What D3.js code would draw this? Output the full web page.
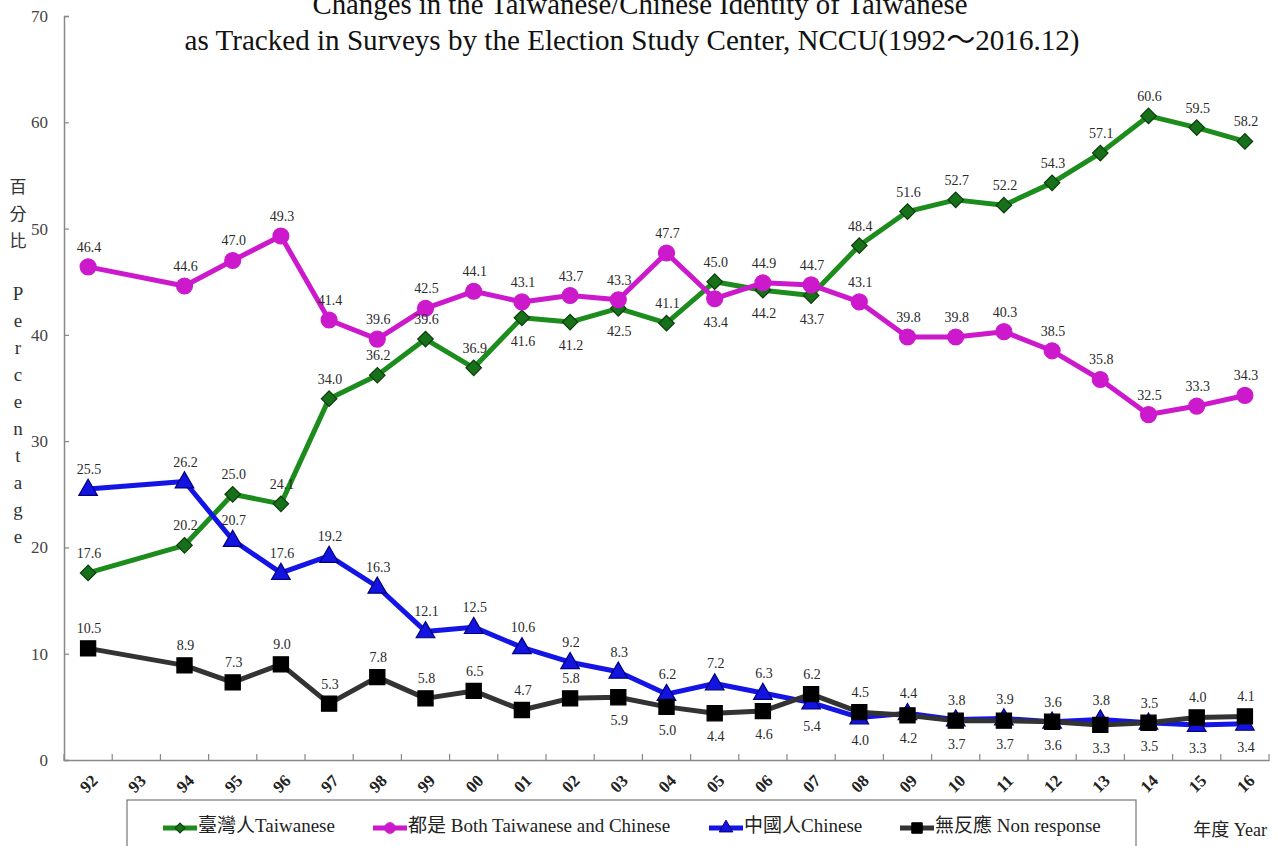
<!DOCTYPE html>
<html>
<head>
<meta charset="utf-8">
<script src="https://cdn.jsdelivr.net/npm/d3@7"></script>
<style>
html,body{margin:0;padding:0;background:#fff;}
svg{display:block;}
</style>
</head>
<body>
<svg id="chart" width="1278" height="846"></svg>
<script>
const years = ["92","93","94","95","96","97","98","99","00","01","02","03","04","05","06","07","08","09","10","11","12","13","14","15","16"];
const taiwanese = [17.6,null,20.2,25.0,24.1,34.0,36.2,39.6,36.9,41.6,41.2,42.5,41.1,45.0,44.2,43.7,48.4,51.6,52.7,52.2,54.3,57.1,60.6,59.5,58.2];
const both      = [46.4,null,44.6,47.0,49.3,41.4,39.6,42.5,44.1,43.1,43.7,43.3,47.7,43.4,44.9,44.7,43.1,39.8,39.8,40.3,38.5,35.8,32.5,33.3,34.3];
const chinese   = [25.5,null,26.2,20.7,17.6,19.2,16.3,12.1,12.5,10.6,9.2,8.3,6.2,7.2,6.3,5.4,4.0,4.4,3.8,3.9,3.6,3.8,3.5,3.3,3.4];
const nonResp   = [10.5,null,8.9,7.3,9.0,5.3,7.8,5.8,6.5,4.7,5.8,5.9,5.0,4.4,4.6,6.2,4.5,4.2,3.7,3.7,3.6,3.3,3.5,4.0,4.1];
const yTicks = [0,10,20,30,40,50,60,70];
const seriesNames = ["臺灣人Taiwanese","都是 Both Taiwanese and Chinese","中國人Chinese","無反應 Non response"];
// label placement: a = above point, b = below point
const placeTaiwanese = "a-aaaaaaabbbaabbaaaaaaaaa";
const placeBoth      = "a-aaaaaaaaaaabaaaaaaaaaaa";
const placeChinese   = "a-aaaaaaaaaaaaabbaaaaaabb";
const placeNonResp   = "a-aaaaaaaaabbbbaabbbbbbaa";

const svg = d3.select("#chart");
const margin = {left:64, right:9, top:16, bottom:86};
const W = 1278, H = 846;
const x = d3.scaleBand().domain(years).range([margin.left, W - margin.right]);
const y = d3.scaleLinear().domain([0,70]).range([H - margin.bottom, margin.top]);
const cx = d => x(d) + x.bandwidth()/2;

const serif = "'Liberation Serif','Times New Roman',serif";
const cjk = "'Liberation Serif','Noto Sans CJK TC',serif";

// Title
svg.append("text").attr("x",640).attr("y",14).attr("text-anchor","middle")
  .attr("font-family",serif).attr("font-size",30).attr("fill","#111")
  .attr("textLength",655).attr("lengthAdjust","spacingAndGlyphs")
  .text("Changes in the Taiwanese/Chinese Identity of Taiwanese");
svg.append("text").attr("x",632).attr("y",50).attr("text-anchor","middle")
  .attr("font-family",cjk).attr("font-size",30).attr("fill","#111")
  .attr("textLength",895).attr("lengthAdjust","spacingAndGlyphs")
  .text("as Tracked in Surveys by the Election Study Center, NCCU(1992～2016.12)");

// Y axis
const yAxis = svg.append("g").attr("transform",`translate(${margin.left},0)`)
  .call(d3.axisLeft(y).tickValues(yTicks).tickSize(-5).tickPadding(16).tickFormat(d3.format("d")));
yAxis.select(".domain").attr("stroke","#888").attr("stroke-width",1.5);
yAxis.selectAll(".tick line").attr("stroke","#888").attr("stroke-width",1.2);
yAxis.selectAll(".tick text").attr("font-family",serif).attr("font-size",17).attr("fill","#444");

// X axis
const xAxis = svg.append("g").attr("transform",`translate(0,${y(0)})`)
  .call(d3.axisBottom(x).tickSize(0).tickPadding(0));
xAxis.select(".domain").attr("stroke","#888").attr("stroke-width",1.5);
xAxis.selectAll(".tick text").remove();
const bounds = years.map(d => x(d)).concat([x(years[years.length-1]) + x.bandwidth()]);
xAxis.selectAll("line.bt").data(bounds).enter().append("line").attr("class","bt")
  .attr("x1",d=>d).attr("x2",d=>d).attr("y1",-6).attr("y2",1).attr("stroke","#888").attr("stroke-width",1.2);
xAxis.selectAll("text.yl").data(years).enter().append("text").attr("class","yl")
  .attr("transform",d=>`translate(${cx(d)+2},${25}) rotate(-45)`)
  .attr("text-anchor","middle").attr("dominant-baseline","middle")
  .attr("font-family",serif).attr("font-weight","bold").attr("font-size",17).attr("fill","#222")
  .text(d=>d);

// Y axis label (vertical)
const yLab = ["百","分","比"," ","P","e","r","c","e","n","t","a","g","e"];
svg.append("g").selectAll("text").data(yLab).enter().append("text")
  .attr("x",18).attr("y",(d,i)=>188+i*27).attr("text-anchor","middle").attr("dominant-baseline","middle")
  .attr("font-family",d=>/[a-z]/i.test(d)?serif:"'Noto Sans CJK TC',serif")
  .attr("font-size",d=>/[a-z]/i.test(d)?19:17).attr("fill","#333").text(d=>d);

// Series
const series = [
  {name:seriesNames[0], vals:taiwanese, place:placeTaiwanese, line:"#1c8c1c", fill:"#17701a", stroke:"#0b3d0b", shape:"diamond"},
  {name:seriesNames[1], vals:both, place:placeBoth, line:"#cc19cc", fill:"#cc19cc", stroke:"#cc19cc", shape:"circle"},
  {name:seriesNames[2], vals:chinese, place:placeChinese, line:"#1414e6", fill:"#1414e0", stroke:"#00007a", shape:"triangle"},
  {name:seriesNames[3], vals:nonResp, place:placeNonResp, line:"#333333", fill:"#000000", stroke:"#000000", shape:"square"}
];
const symbolFor = {
  circle: d3.symbol().type(d3.symbolCircle).size(200),
  triangle: d3.symbol().type(d3.symbolTriangle).size(150),
  square: d3.symbol().type(d3.symbolSquare).size(230)
};
const diamondSym = d3.symbol().type(d3.symbolSquare).size(120);

const lineGen = d3.line().x(d=>cx(d.year)).y(d=>y(d.v));
const layers = svg.append("g");
series.forEach(s => {
  s.pts = years.map((yr,i)=>({year:yr, v:s.vals[i], p:s.place[i]})).filter(d=>d.v!==null);
});
series.forEach(s => {
  const g = layers.append("g");
  g.append("path").datum(s.pts).attr("d",lineGen).attr("fill","none")
    .attr("stroke",s.line).attr("stroke-width",5).attr("stroke-linejoin","round");
  const m = g.selectAll("path.m").data(s.pts).enter().append("path").attr("class","m")
    .attr("fill",s.fill).attr("stroke",s.stroke).attr("stroke-width",1.2);
  if (s.shape==="diamond") {
    m.attr("d",diamondSym).attr("transform",d=>`translate(${cx(d.year)},${y(d.v)}) rotate(45)`);
  } else if (s.shape==="triangle") {
    m.attr("d",symbolFor.triangle).attr("transform",d=>`translate(${cx(d.year)},${y(d.v)+1})`);
  } else {
    m.attr("d",symbolFor[s.shape]).attr("transform",d=>`translate(${cx(d.year)},${y(d.v)})`);
  }
});
// value labels
series.forEach(s => {
  svg.append("g").selectAll("text").data(s.pts).enter().append("text")
    .attr("x",d=>cx(d.year)+1).attr("y",d=>y(d.v) + (d.p==="b"?28:-15))
    .attr("text-anchor","middle").attr("font-family",serif).attr("font-size",14).attr("fill","#2a2a2a")
    .text(d=>d.v.toFixed(1));
});

// Legend
const lg = svg.append("g");
lg.append("rect").attr("x",127).attr("y",800).attr("width",1009).attr("height",60)
  .attr("fill","#fff").attr("stroke","#777").attr("stroke-width",1.2);
const legendX = [163,373,709,900];
series.forEach((s,i) => {
  const lx = legendX[i], ly = 828;
  lg.append("line").attr("x1",lx).attr("x2",lx+34).attr("y1",ly).attr("y2",ly)
    .attr("stroke",s.line).attr("stroke-width",5);
  const mk = lg.append("path").attr("fill",s.fill).attr("stroke",s.stroke).attr("stroke-width",1);
  if (s.shape==="diamond") mk.attr("d",d3.symbol().type(d3.symbolSquare).size(50)).attr("transform",`translate(${lx+17},${ly}) rotate(45)`);
  else if (s.shape==="circle") mk.attr("d",d3.symbol().type(d3.symbolCircle).size(90)).attr("transform",`translate(${lx+17},${ly})`);
  else if (s.shape==="triangle") mk.attr("d",d3.symbol().type(d3.symbolTriangle).size(80)).attr("transform",`translate(${lx+17},${ly})`);
  else mk.attr("d",d3.symbol().type(d3.symbolSquare).size(110)).attr("transform",`translate(${lx+17},${ly})`);
  lg.append("text").attr("x",lx+35).attr("y",ly).attr("dominant-baseline","middle")
    .attr("font-family",cjk).attr("font-size",19).attr("fill","#222").text(s.name);
});
svg.append("text").attr("x",1267).attr("y",832).attr("text-anchor","end").attr("dominant-baseline","middle")
  .attr("font-family",cjk).attr("font-size",18).attr("fill","#222").text("年度 Year");
</script>
</body>
</html>
